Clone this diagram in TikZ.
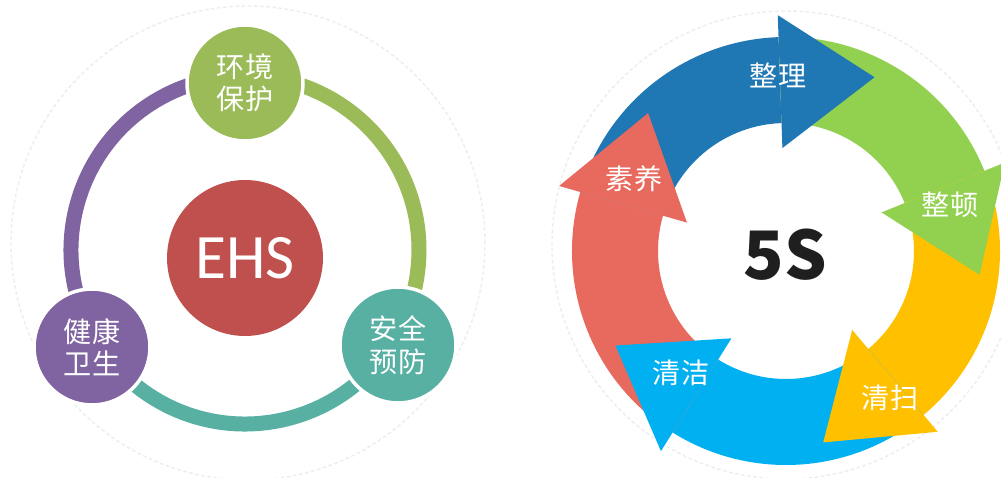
\documentclass[tikz,border=0pt]{standalone}
\usepackage{fontspec}
\setmainfont{Carlito}
\newfontfamily\cjk{Noto Sans CJK SC}
\usetikzlibrary{backgrounds}

\definecolor{egreen}{HTML}{9BBB59}
\definecolor{evio}{HTML}{8064A2}
\definecolor{eteal}{HTML}{57B0A2}
\definecolor{ered}{HTML}{C0504D}
\definecolor{sblue}{HTML}{1F77B4}
\definecolor{sgreen}{HTML}{92D050}
\definecolor{syellow}{HTML}{FFC000}
\definecolor{scyan}{HTML}{00B0F0}
\definecolor{sred}{HTML}{E8695E}

\begin{document}
\begin{tikzpicture}[x=0.02cm, y=0.02cm,
    ball/.style={circle, draw=white, line width=2pt, minimum size=2.32cm,
        inner sep=0pt, text=white, align=center,
        font=\cjk\fontsize{16}{18.5}\selectfont},
    ring/.style={line width=0.3cm},
    slabel/.style={text=white, font=\cjk\fontsize{16}{18}\selectfont},
    halo/.style={black!7, line width=0.8pt, dash pattern=on 2pt off 1.5pt}]
    \useasboundingbox (0,0) rectangle (1001,477);
    % EHS circles
    \node[circle, fill=ered, minimum size=3.12cm, inner sep=0pt, text=white,
        font=\fontsize{36}{40}\selectfont] (ehs) at (245,219) {EHS};
    \node[ball, fill=egreen] (env) at (245,394) {环境\\保护};
    \node[ball, fill=evio] (health) at (92,130) {健康\\卫生};
    \node[ball, fill=eteal] (safety) at (398,132) {安全\\预防};
    \coordinate (hub) at (245,227);
    % ring behind the circles
    \begin{scope}[on background layer]
        \fill[white] (0,0) rectangle (1001,477);
        \draw[halo] (248,234) circle[radius=237];
        \draw[halo] (786,232) circle[radius=234];
        \draw[ring, evio] ([shift={(210:174)}]hub) arc[start angle=210, end angle=90, radius=174];
        \draw[ring, egreen] ([shift={(90:174)}]hub) arc[start angle=90, end angle=-30, radius=174];
        \draw[ring, eteal] ([shift={(-30:174)}]hub) arc[start angle=-30, end angle=-150, radius=174];
    \end{scope}
    % 5S wheel
    \coordinate (fives) at (786,226);
    \foreach \from/\to/\col in {164/92/sblue, 92/22/sgreen, 22/-50/syellow,
        -50/-122/scyan, -122/-196/sred}
        \fill[\col] ([shift={(\from:214)}]fives)
            arc[start angle=\from, end angle=\to, radius=214]
            -- ([shift={(\to:128)}]fives)
            arc[start angle=\to, end angle=\from, radius=128] -- cycle;
    % arrow heads
    \foreach \to/\col in {92/sblue, 22/sgreen, -50/syellow, -122/scyan, -196/sred}
        \fill[\col] ([shift={(\to:103)}]fives) -- ([shift={(\to:236)}]fives)
            -- ([shift={({\to-29}:195)}]fives) -- cycle;
    % labels
    \node[slabel] (sort) at (778,402) {整理};
    \node[slabel] (order) at (950,272) {整顿};
    \node[slabel] (sweep) at (890,79) {清扫};
    \node[slabel] (clean) at (681,104) {清洁};
    \node[slabel] (habit) at (634,298) {素养};
    \node[text=black!88, font=\cjk\bfseries\fontsize{38}{40}\selectfont] (title) at (785,222) {5S};
\end{tikzpicture}
\end{document}
